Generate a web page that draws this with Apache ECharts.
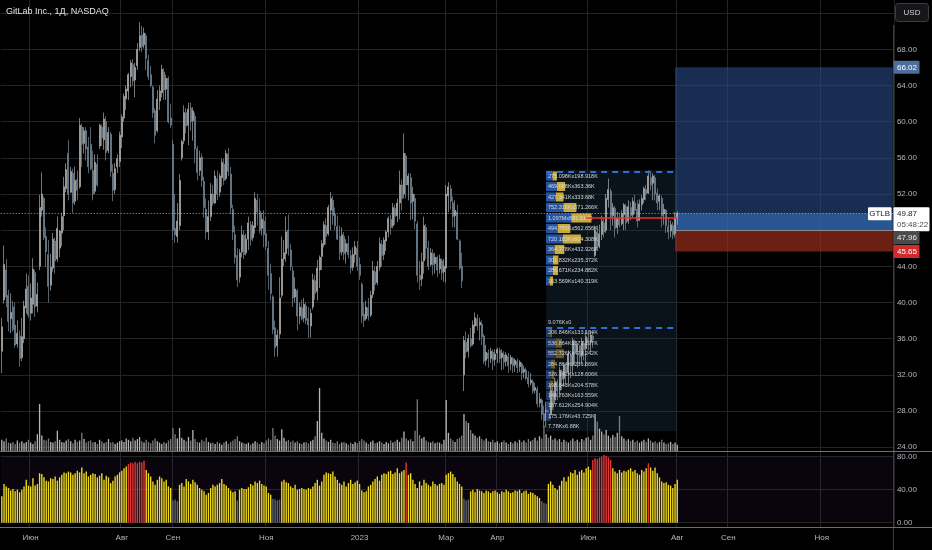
<!DOCTYPE html>
<html lang="ru">
<head>
    <meta charset="UTF-8">
    <title>GitLab Inc., 1Д, NASDAQ</title>
    <script src="https://cdn.jsdelivr.net/npm/echarts@6/dist/echarts.min.js"></script>
    <style>
        html, body { margin: 0; padding: 0; background: #000; }
        #main { width: 932px; height: 550px; }
    </style>
</head>
<body>
<div id="main"></div>
<script type="text/javascript">
    // daily candles, 12 May 2022 .. 1 Aug 2023
    var opens = [
        34.6,40.3,43.6,40.8,38.2,39.5,37.5,35.4,36.3,33.9,
        36.0,39.4,41.8,38.8,39.8,43.3,39.6,44.0,50.2,51.5,
        47.3,45.3,41.9,43.8,46.8,44.8,46.0,47.7,49.6,52.6,
        56.5,52.2,54.3,51.2,53.6,52.8,59.4,57.6,59.0,57.2,
        57.5,54.6,52.3,55.3,57.3,59.4,58.0,60.0,56.8,58.6,
        54.3,52.5,55.0,55.6,58.3,60.4,62.5,63.4,65.0,66.3,
        64.6,66.2,68.2,69.6,68.5,69.5,66.8,65.2,63.8,61.2,
        59.0,62.3,63.2,65.5,63.6,64.8,60.4,57.5,48.2,47.3,
        48.5,56.0,57.9,61.0,59.6,61.5,60.1,60.6,57.0,54.6,
        56.1,53.4,50.3,47.8,49.5,52.0,51.0,53.7,52.2,53.8,
        55.3,53.7,56.4,54.2,50.3,47.5,45.2,42.8,45.6,47.4,
        45.5,47.0,48.6,47.2,48.3,51.3,50.1,48.2,49.0,47.6,
        46.0,43.2,40.6,37.2,35.2,36.5,40.8,44.8,45.4,48.0,
        45.8,43.5,40.6,41.3,38.5,39.4,38.3,39.6,38.2,37.4,
        39.5,42.4,41.2,43.6,45.1,46.4,48.5,47.6,50.2,51.3,
        49.8,48.4,47.3,45.6,47.3,45.6,46.5,45.2,43.9,45.3,
        46.0,44.2,42.0,38.7,38.2,39.4,38.6,40.9,43.4,42.2,
        43.9,46.4,45.3,46.8,47.8,49.2,48.5,50.4,49.6,51.0,
        53.0,52.0,56.2,53.0,53.8,51.2,51.5,48.7,43.0,42.6,
        44.6,48.3,46.0,44.2,45.4,44.3,45.0,43.7,44.6,43.4,
        43.8,51.8,52.6,51.0,49.6,50.0,46.8,44.0,32.0,35.6,
        34.6,36.0,35.4,37.4,38.2,37.5,37.6,36.3,33.6,34.4,
        33.8,34.5,33.7,34.4,34.7,33.9,34.2,33.5,34.0,33.2,
        33.8,33.1,33.5,32.9,33.2,32.3,32.5,31.7,31.1,31.2,
        30.3,30.4,28.9,29.2,27.7,27.0,28.1,27.6,30.2,29.2,
        31.2,30.3,32.4,31.6,32.9,32.3,34.2,33.2,35.7,34.6,
        35.2,34.1,35.5,34.9,36.0,35.6,36.3,45.2,47.8,46.2,
        47.5,48.8,48.0,51.4,52.3,49.6,50.4,48.3,49.2,48.7,
        49.7,50.6,49.0,50.5,49.7,51.0,50.3,49.1,50.8,51.4,
        52.5,52.1,53.8,53.2,53.8,52.1,51.2,51.5,49.8,50.2,
        48.4,47.9,48.5,47.6,49.3
    ];
    var closes = [
        37.3,44.2,40.6,37.9,38.9,37.0,35.3,36.6,33.8,36.2,
        39.6,41.5,38.6,40.5,43.7,39.5,40.9,50.5,52.0,47.2,
        45.6,41.8,43.9,47.0,44.6,48.2,47.9,49.5,52.8,54.7,
        52.0,54.5,51.0,53.5,52.4,59.6,57.5,59.0,57.0,55.0,
        54.8,52.0,55.5,53.0,59.6,58.2,60.3,56.6,58.8,54.5,
        52.4,54.8,55.9,58.5,60.5,62.8,63.6,65.2,66.5,64.5,
        66.0,68.0,69.5,68.3,69.8,67.0,65.0,64.0,61.0,58.5,
        62.5,63.4,65.8,63.5,64.8,60.0,59.6,48.0,47.5,49.0,
        53.5,57.8,61.0,59.5,61.4,60.0,61.2,57.0,54.4,56.0,
        53.5,50.5,47.8,49.5,52.0,51.0,54.0,52.0,54.0,55.5,
        53.5,56.5,54.5,50.5,47.8,45.0,42.5,45.5,47.5,45.3,
        47.0,48.8,47.0,48.5,51.5,50.0,48.0,49.2,47.5,46.2,
        43.0,41.0,37.0,35.0,36.4,40.5,44.8,45.5,47.8,46.0,
        44.0,40.5,41.5,38.5,39.5,38.2,39.8,38.0,37.5,38.8,
        42.5,41.0,43.8,45.0,46.5,48.6,47.3,50.5,51.5,49.6,
        48.5,47.0,45.5,47.5,45.4,46.5,45.3,43.8,45.3,46.2,
        44.0,43.0,38.5,38.0,39.5,38.5,40.8,43.5,42.0,44.0,
        46.5,45.2,46.9,47.8,49.3,48.3,50.5,49.5,51.0,53.0,
        51.5,56.5,53.0,54.0,51.0,52.0,49.0,43.0,42.5,44.5,
        48.5,46.0,44.0,45.5,44.2,45.0,43.6,44.8,43.3,44.0,
        52.0,52.8,51.2,49.5,50.2,47.0,43.8,42.4,35.8,34.5,
        36.0,35.2,37.5,38.3,37.4,37.8,36.2,33.5,34.5,33.8,
        34.6,33.6,34.3,34.8,33.8,34.4,33.4,34.2,33.0,33.9,
        33.0,33.6,32.8,33.4,32.2,32.6,31.6,31.0,31.4,30.2,
        30.6,28.8,29.3,27.6,26.9,28.2,27.4,30.3,29.0,31.3,
        30.2,32.5,31.5,33.0,32.2,34.3,33.0,35.8,34.5,35.3,
        34.0,35.6,34.8,36.2,35.5,36.4,35.9,48.0,46.0,47.6,
        49.0,47.8,51.5,52.5,49.5,50.5,48.2,49.3,48.6,49.8,
        50.8,48.8,50.6,49.6,51.2,50.2,49.0,50.9,51.5,52.6,
        52.0,54.0,53.0,54.0,52.0,51.0,51.8,49.6,50.3,48.5,
        47.8,48.6,47.5,49.3,49.87
    ];
    var lows = [
        32.2,39.9,39.5,36.8,36.6,36.8,35.0,35.0,32.9,33.5,
        35.5,38.8,38.3,38.0,38.8,38.4,38.9,43.6,49.5,46.9,
        43.9,40.0,41.3,43.4,43.2,44.5,45.0,46.2,48.0,52.2,
        51.3,52.1,49.9,50.8,51.3,52.6,55.0,56.5,55.7,54.3,
        54.6,51.3,52.0,52.8,57.0,57.3,56.9,55.7,56.5,53.9,
        51.2,52.0,54.3,55.0,57.1,60.0,61.3,62.4,63.8,64.0,
        62.7,65.7,67.8,67.7,68.1,65.7,64.6,63.8,60.4,57.6,
        58.8,61.3,62.7,62.4,62.4,59.8,59.3,46.9,46.6,46.6,
        48.0,55.7,57.5,58.7,57.4,59.0,57.9,55.4,53.5,54.0,
        52.8,49.4,47.0,46.9,49.0,50.7,50.9,51.3,51.7,52.8,
        53.0,53.5,54.0,49.8,46.9,44.3,41.7,42.2,45.0,44.8,
        45.2,45.8,46.3,46.8,47.6,48.5,47.6,47.4,46.1,45.8,
        41.4,40.2,36.5,34.0,34.0,36.0,40.5,44.0,44.5,45.2,
        43.5,39.5,40.0,36.9,37.6,38.0,37.8,37.6,36.1,36.1,
        39.2,40.3,40.2,41.6,43.6,46.1,46.4,47.4,48.0,48.6,
        48.0,46.9,44.7,45.2,44.7,44.3,44.9,43.2,43.5,44.4,
        43.5,42.5,37.7,37.3,38.0,38.0,38.4,40.5,41.3,41.9,
        43.5,44.0,44.7,45.7,47.2,47.5,48.2,48.6,48.9,49.2,
        50.2,51.5,51.5,51.3,49.1,49.2,48.1,42.2,41.4,41.8,
        43.2,44.8,43.6,44.0,43.0,43.2,42.8,43.2,42.5,42.3,
        42.2,50.0,50.3,48.3,48.3,46.9,43.6,41.6,30.2,33.8,
        33.9,35.0,35.2,36.6,36.9,35.8,35.3,33.2,33.0,32.8,
        33.3,32.5,33.0,33.3,33.3,32.5,32.6,32.9,32.2,32.5,
        32.2,32.3,32.2,32.3,31.4,31.6,31.4,30.6,30.8,29.9,
        29.9,28.4,28.4,27.0,26.2,26.2,27.0,27.1,28.3,28.8,
        29.2,29.5,30.3,30.7,30.8,31.1,31.6,32.1,33.0,32.8,
        33.2,33.3,33.6,32.9,34.7,34.5,35.0,45.0,45.8,46.0,
        46.9,47.2,47.7,50.5,48.0,48.5,47.2,47.6,48.3,48.5,
        48.0,48.0,48.7,49.1,49.4,49.9,48.3,49.0,50.2,51.0,
        51.3,52.0,52.4,51.3,51.3,50.2,50.2,48.3,48.6,47.7,
        47.0,47.2,47.0,47.2,48.6
    ];
    var highs = [
        38.3,46.3,44.8,41.4,41.0,40.2,40.0,38.0,36.9,38.3,
        40.2,43.2,43.0,42.1,44.9,43.6,42.2,51.9,54.4,51.7,
        48.3,46.9,45.4,47.7,47.2,49.5,48.0,49.9,53.9,55.4,
        58.0,55.0,54.8,55.0,54.6,60.4,59.8,59.4,59.4,58.3,
        59.4,56.8,56.4,56.4,59.8,59.7,61.0,60.6,59.4,58.9,
        55.3,55.4,56.4,58.9,60.8,63.1,64.0,65.4,66.8,66.9,
        66.5,68.7,71.0,70.6,70.4,69.8,67.4,66.2,64.0,61.5,
        63.5,64.0,66.3,65.9,65.2,65.0,62.0,58.0,52.0,51.0,
        54.2,58.0,61.8,61.5,62.1,62.1,61.6,61.0,57.3,56.8,
        56.5,53.9,51.5,51.3,53.2,53.0,54.6,54.6,54.3,55.9,
        55.9,56.9,57.1,55.0,50.8,48.5,46.0,45.9,48.5,48.0,
        47.6,49.5,49.0,49.0,52.2,52.0,51.5,49.9,50.2,49.5,
        46.8,44.3,40.8,38.0,37.0,42.8,47.3,46.9,49.5,49.7,
        46.5,44.0,42.8,41.5,40.0,40.3,40.5,40.0,39.5,39.3,
        43.2,43.0,44.7,45.2,46.9,49.0,49.3,50.8,52.2,51.8,
        50.5,49.6,48.5,48.3,47.8,47.0,47.4,45.8,46.1,46.8,
        46.8,45.0,42.2,40.0,40.2,40.5,41.3,44.6,44.0,44.6,
        47.2,46.9,47.2,48.0,49.5,49.7,51.0,50.8,51.5,54.6,
        53.6,58.7,56.5,54.3,54.3,52.8,52.0,49.0,44.6,45.5,
        49.5,48.7,46.8,46.0,45.9,45.5,45.2,45.3,44.9,44.8,
        53.0,53.3,53.0,51.7,51.3,50.8,47.0,45.5,36.3,36.8,
        36.5,37.2,38.0,38.9,38.7,38.3,38.0,36.5,35.3,34.8,
        35.0,34.8,34.8,35.0,35.0,34.8,34.6,34.5,34.4,34.2,
        34.0,33.8,33.8,33.6,33.4,33.0,32.8,32.4,32.2,31.5,
        31.1,30.7,30.0,29.4,28.6,29.0,28.6,31.0,30.5,31.7,
        31.5,32.9,32.6,33.3,33.2,34.7,34.4,36.1,35.9,35.5,
        35.3,36.1,35.8,36.9,36.6,36.9,36.8,48.5,48.5,48.6,
        49.6,49.4,52.0,53.7,52.6,51.0,50.7,50.0,49.9,50.2,
        51.0,50.9,51.3,51.1,51.6,51.9,51.3,51.4,51.9,52.8,
        53.0,54.6,54.4,54.3,54.1,52.6,52.0,51.8,50.9,50.3,
        49.4,49.1,48.9,50.0,50.1
    ];
    // volume, millions of shares
    var volumes = [
        1.6,1.4,1.8,1.2,1.1,1.3,1.0,1.5,1.2,1.4,
        1.1,1.3,1.6,1.2,1.0,1.4,2.4,6.7,2.2,1.6,
        1.5,1.8,1.3,1.2,1.4,2.9,1.6,1.3,1.2,1.5,
        1.7,1.4,1.1,1.6,1.3,1.5,2.6,1.7,1.2,1.4,
        1.5,1.2,1.3,1.0,1.6,1.4,1.1,1.3,1.7,1.2,
        1.3,1.0,1.2,1.4,1.5,1.3,1.8,1.6,1.4,1.9,
        1.5,1.7,2.0,1.4,1.2,1.6,1.3,1.1,1.5,1.8,
        1.4,1.2,1.0,1.3,1.1,1.5,1.7,3.3,2.4,1.8,
        3.3,1.9,1.6,1.4,2.0,1.5,3.0,1.7,1.3,1.2,
        1.6,1.4,1.9,1.3,1.1,1.2,1.0,1.3,1.1,0.9,
        1.2,1.4,1.0,1.3,1.5,1.7,2.1,1.4,1.2,1.1,
        1.0,1.2,0.9,1.1,1.4,1.2,1.0,1.3,1.1,1.5,
        1.8,1.6,3.3,2.2,1.7,1.5,3.1,1.9,1.4,1.6,
        1.3,1.5,1.2,1.4,1.1,1.0,1.2,1.3,1.1,1.4,
        1.6,2.1,4.3,9.0,2.6,1.8,1.5,1.3,1.6,1.2,
        1.1,1.4,1.0,1.2,1.3,1.1,0.9,1.2,1.0,1.3,
        1.1,1.4,1.7,1.5,1.2,1.0,1.3,1.5,1.1,1.2,
        1.4,1.2,1.0,1.3,1.1,1.5,1.2,1.4,1.6,1.3,
        1.9,2.8,1.8,1.5,1.7,1.4,2.9,7.4,2.3,1.8,
        2.0,1.5,1.3,1.2,1.4,1.1,1.3,1.2,1.0,1.6,
        7.3,2.6,1.8,1.5,1.3,1.7,1.9,2.2,5.3,4.3,
        4.0,3.0,2.5,2.2,1.9,2.1,1.7,1.5,1.8,1.4,
        1.3,1.6,1.2,1.4,1.1,1.3,1.5,1.2,1.0,1.3,
        1.1,1.4,1.2,1.6,1.3,1.5,1.2,1.7,1.4,1.6,
        1.9,1.5,2.1,1.8,3.6,2.4,1.9,2.2,1.6,1.8,
        1.5,1.7,1.3,1.6,1.4,1.2,1.5,1.8,1.4,1.6,
        1.3,1.7,1.5,1.9,2.0,1.6,2.2,5.3,4.2,3.2,
        2.8,2.4,3.0,2.2,1.9,2.3,2.0,2.6,5.0,2.1,
        1.8,1.5,1.7,1.4,1.6,1.3,1.5,1.2,1.4,1.6,
        1.3,1.8,1.5,1.2,1.4,1.1,1.3,1.6,1.2,1.0,
        1.1,1.3,1.0,1.2,0.9
    ];
    // lower pane oscillator
    var oscValues = [
        32,47,44,42,39,41,38,40,37,40,
        44,52,45,44,54,45,47,60,59,55,
        51,50,54,53,56,51,55,58,61,60,
        62,61,58,60,63,61,67,60,62,56,
        58,60,59,55,57,60,52,57,55,48,
        51,56,58,61,63,66,68,71,73,72,
        74,72,74,73,75,64,60,56,50,46,
        52,56,54,50,52,44,42,27,28,26,
        46,48,44,53,50,47,52,49,46,42,
        40,38,34,36,42,46,44,46,48,53,
        47,45,42,39,37,38,27,40,42,41,
        41,43,47,45,50,48,51,47,45,44,
        36,34,29,28,27,28,50,52,49,48,
        44,42,46,40,41,42,41,40,42,41,
        44,48,52,45,50,58,61,60,59,62,
        56,52,48,46,50,44,48,52,47,49,
        51,47,39,37,38,44,46,50,53,56,
        51,58,60,59,62,63,59,61,66,60,
        62,64,73,58,60,52,47,42,50,45,
        52,48,46,44,50,47,45,47,48,46,
        58,60,62,59,55,50,47,44,29,27,
        28,38,40,37,41,39,38,36,39,38,
        36,38,39,37,35,38,37,40,38,36,
        37,39,38,40,36,38,39,35,37,36,
        34,32,30,26,24,23,47,50,46,42,
        40,45,51,55,50,56,61,60,64,58,
        62,64,61,66,68,64,76,78,77,79,
        80,82,81,79,76,66,62,60,64,61,
        63,62,64,66,62,64,60,58,64,62,
        66,72,67,63,67,60,55,50,48,49,
        46,45,42,47,52
    ];

    // time axis: bar slots incl. empty future space
    var slotCount = 402;
    var tickIndex  = [13, 54, 77, 119, 161, 200, 223, 264, 304, 327, 369];
    var tickLabels = ['Июн', 'Авг', 'Сен', 'Ноя', '2023', 'Мар', 'Апр', 'Июн', 'Авг', 'Сен', 'Ноя'];

    // fixed range volume profiles (K shares, buy x sell), top row first
    var vpUpperBuy  = [275.098, 469.088, 427.341, 752.316, 1097, 494.755, 720.183, 364.778, 301.832, 286.671, 163.569];
    var vpUpperSell = [198.918, 363.36, 333.68, 571.266, 881.614, 562.656, 804.308, 432.926, 235.372, 234.882, 140.319];
    var vpLowerBuy  = [9.076, 206.846, 536.864, 552.726, 284.864, 326.142, 198.643, 148.763, 187.612, 175.176, 7.78];
    var vpLowerSell = [0, 133.164, 372.197, 473.242, 236.669, 128.606, 204.578, 163.559, 254.904, 43.725, 6.88];
    var vpUpperRange = [54.45, 49.35];   // top line, POC
    var vpLowerTop = 37.17;

    // long position tool
    var posStart = 303, posTarget = 66.02, posEntry = 47.96, posStop = 45.65;
    var lastPrice = 49.87, countdown = '05:48:22';

    var FONT = "'Liberation Sans', Arial, sans-serif";
    var GRIDC = '#242424';

    var slots = [];
    for (var i = 0; i < slotCount; i++) slots.push(String(i));
    var candles = [];
    for (var i = 0; i < closes.length; i++) candles.push([opens[i], closes[i], lows[i], highs[i]]);

    function isTick(idx) { return tickIndex.indexOf(idx) >= 0; }
    function fmtK(v) {
        if (v === 0) return '0';
        if (v >= 1000) return parseFloat((v / 1000).toFixed(3)) + 'M';
        return parseFloat(v.toFixed(3)) + 'K';
    }
    function vpLabel(buy, sell) {
        return function (p) { return fmtK(buy[p.dataIndex]) + 'x' + fmtK(sell[p.dataIndex]); };
    }
    var rows = ['0','1','2','3','4','5','6','7','8','9','10'];
    var plotLeft = 0.7, plotWidth = 893.2;

    var myChart = echarts.init(document.getElementById('main'));

    var option = {
        backgroundColor: '#000000',
        animation: false,
        title: {
            text: 'GitLab Inc., 1Д, NASDAQ',
            left: 6, top: 7, padding: 0,
            textStyle: { color: '#e3e5ea', fontSize: 9, fontWeight: 'normal', fontFamily: FONT }
        },
        grid: [
            { left: plotLeft, width: plotWidth, top: 0, height: 527, outerBoundsMode: 'none' },      // frame / time axis
            { left: plotLeft, width: plotWidth, top: 13.2, height: 433.9, outerBoundsMode: 'none' }, // price
            { left: plotLeft, width: plotWidth, top: 381, height: 70, outerBoundsMode: 'none' },     // volume
            { left: plotLeft, width: plotWidth, top: 456.7, height: 66, outerBoundsMode: 'none' },   // oscillator
            { left: 546, width: 131, top: 170.75, height: 115.5, outerBoundsMode: 'none' },          // VP upper
            { left: 546, width: 131, top: 317.1, height: 114.9, outerBoundsMode: 'none' }            // VP lower
        ],
        xAxis: [
            {
                type: 'category', gridIndex: 0, data: slots,
                axisLine: { show: false }, axisTick: { show: false },
                axisLabel: {
                    interval: function (idx) { return isTick(idx); },
                    formatter: function (v, idx) { var j = tickIndex.indexOf(idx); return j >= 0 ? tickLabels[j] : ''; },
                    color: '#b2b5be', fontSize: 8, fontFamily: FONT, margin: 7
                },
                splitLine: { show: true, interval: function (idx) { return isTick(idx); }, lineStyle: { color: GRIDC, width: 1 } }
            },
            { type: 'category', gridIndex: 1, data: slots, show: false },
            { type: 'category', gridIndex: 2, data: slots, show: false },
            { type: 'category', gridIndex: 3, data: slots, show: false },
            { type: 'value', gridIndex: 4, min: 0, max: 5700, show: false },
            { type: 'value', gridIndex: 5, min: 0, max: 7490, show: false }
        ],
        yAxis: [
            { type: 'value', gridIndex: 0, min: 0, max: 1, show: false },
            {
                type: 'value', gridIndex: 1, position: 'right', min: 24, max: 72, interval: 4,
                axisLine: { show: false }, axisTick: { show: false },
                axisLabel: {
                    color: '#b2b5be', fontSize: 8, fontFamily: FONT, margin: 3,
                    formatter: function (v) { return v >= 72 ? '' : v.toFixed(2); }
                },
                splitLine: { lineStyle: { color: GRIDC, width: 1 } }
            },
            { type: 'value', gridIndex: 2, min: 0, max: 10, show: false },
            {
                type: 'value', gridIndex: 3, position: 'right', min: 0, max: 80, interval: 40,
                axisLine: { show: false }, axisTick: { show: false },
                axisLabel: { color: '#b2b5be', fontSize: 8, fontFamily: FONT, margin: 3, formatter: function (v) { return v.toFixed(2); } },
                splitLine: { lineStyle: { color: GRIDC, width: 1 } }
            },
            { type: 'category', gridIndex: 4, data: rows, inverse: true, show: false },
            { type: 'category', gridIndex: 5, data: rows, inverse: true, show: false }
        ],
        series: [
            {   // backgrounds: VP region and position tool
                type: 'line', xAxisIndex: 1, yAxisIndex: 1, data: [], z: 1, silent: true,
                markArea: {
                    silent: true,
                    data: [
                        [{ coord: [245, vpUpperRange[0] + 0.2], itemStyle: { color: 'rgba(30,55,75,0.34)' } }, { coord: [304, 25.75] }],
                        [{ coord: [posStart, posTarget], itemStyle: { color: 'rgba(40,75,135,0.6)' } }, { coord: [slotCount - 1, lastPrice] }],
                        [{ coord: [posStart, lastPrice], itemStyle: { color: 'rgba(48,100,170,0.85)' } }, { coord: [slotCount - 1, posEntry] }],
                        [{ coord: [posStart, posEntry], itemStyle: { color: 'rgba(150,45,28,0.72)' } }, { coord: [slotCount - 1, posStop] }]
                    ]
                }
            },
            {
                name: 'GTLB', type: 'candlestick', xAxisIndex: 1, yAxisIndex: 1, data: candles, z: 3,
                barWidth: 1.5,
                itemStyle: {
                    color: '#dcd8c0', color0: '#3172aa',
                    borderColor: '#a9a9a9', borderColor0: '#7e8c98', borderWidth: 0.7
                }
            },
            {   // level lines
                type: 'line', xAxisIndex: 1, yAxisIndex: 1, data: [], z: 6, silent: true,
                markLine: {
                    silent: true, symbol: 'none', label: { show: false },
                    data: [
                        [{ coord: [245, vpUpperRange[0]], lineStyle: { color: '#2f6fd6', width: 2, type: [6, 5] } }, { coord: [304, vpUpperRange[0]] }],
                        [{ coord: [245, vpLowerTop], lineStyle: { color: '#2f6fd6', width: 2, type: [6, 5] } }, { coord: [304, vpLowerTop] }],
                        [{ coord: [263, vpUpperRange[1]], lineStyle: { color: '#ff2b2b', width: 1.5, type: 'solid' } }, { coord: [304, vpUpperRange[1]] }],
                        [{ coord: [posStart, posEntry], lineStyle: { color: '#8a8a8a', width: 1, type: 'solid' } }, { coord: [slotCount - 1, posEntry] }],
                        { yAxis: lastPrice, lineStyle: { color: 'rgba(220,220,220,0.75)', width: 1, type: [1, 2] } }
                    ]
                }
            },
            {
                name: 'Volume', type: 'bar', xAxisIndex: 2, yAxisIndex: 2, data: volumes, barWidth: '60%', z: 2,
                itemStyle: {
                    color: function (p) { return closes[p.dataIndex] >= opens[p.dataIndex] ? '#b4b4b4' : '#7a7a7a'; }
                }
            },
            {
                name: 'Osc', type: 'bar', xAxisIndex: 3, yAxisIndex: 3, data: oscValues, barWidth: '62%', clip: false,
                itemStyle: {
                    color: function (p) {
                        if (p.value >= 70) return '#e53935';
                        if (p.value < 30) return '#5f6670';
                        return '#f0dc1e';
                    }
                },
                markArea: {
                    silent: true,
                    data: [[{ yAxis: 0, itemStyle: { color: 'rgba(126,70,160,0.08)' } }, { yAxis: 80 }]]
                }
            },
            {
                type: 'bar', xAxisIndex: 4, yAxisIndex: 4, stack: 'vpu', data: vpUpperBuy, barCategoryGap: '14%', z: 4,
                itemStyle: { color: '#2654a0' },
                label: { show: true, position: 'insideLeft', distance: 2, formatter: vpLabel(vpUpperBuy, vpUpperSell),
                         color: '#d8d8d8', fontSize: 5.5, fontFamily: FONT }
            },
            {
                type: 'bar', xAxisIndex: 4, yAxisIndex: 4, stack: 'vpu', data: vpUpperSell, barCategoryGap: '14%', z: 3,
                itemStyle: { color: '#c8aa3c' }
            },
            {
                type: 'bar', xAxisIndex: 5, yAxisIndex: 5, stack: 'vpl', data: vpLowerBuy, barCategoryGap: '14%', z: 4,
                itemStyle: { color: '#1f3d72' },
                label: { show: true, position: 'insideLeft', distance: 2, formatter: vpLabel(vpLowerBuy, vpLowerSell),
                         color: '#d0d0d0', fontSize: 5.5, fontFamily: FONT }
            },
            {
                type: 'bar', xAxisIndex: 5, yAxisIndex: 5, stack: 'vpl', data: vpLowerSell, barCategoryGap: '14%', z: 3,
                itemStyle: { color: '#6a5824' }
            }
        ]
    };
    myChart.setOption(option);

    // price scale tags, placed with the chart's own price axis
    function py(p) { return myChart.convertToPixel({ yAxisIndex: 1 }, p); }
    function txt(x, y, s, fill, align) {
        return { type: 'text', z: 100, silent: true,
                 style: { x: x, y: y, text: s, fill: fill, font: '8px ' + FONT,
                          align: align || 'left', textAlign: align || 'left',
                          verticalAlign: 'middle', textVerticalAlign: 'middle' } };
    }
    function box(x, y, w, h, fill, stroke) {
        return { type: 'rect', z: 99, silent: true, shape: { x: x, y: y, width: w, height: h, r: 1 },
                 style: { fill: fill, stroke: stroke || null } };
    }
    var yNow = py(lastPrice), yT = py(posTarget), yS = py(posStop);
    var nowTop = yNow - 6, nowBottom = nowTop + 24;
    var entryTop = Math.max(py(posEntry) - 6.5, nowBottom);
    var axisX = 893.5, tagX = 897;
    myChart.setOption({
        graphic: [
            { type: 'line', z: 98, silent: true, shape: { x1: axisX, y1: 25, x2: axisX, y2: 550 }, style: { stroke: '#3a3a3a', lineWidth: 1 } },
            { type: 'line', z: 98, silent: true, shape: { x1: 0, y1: 451.5, x2: 932, y2: 451.5 }, style: { stroke: '#6e6e6e', lineWidth: 1 } },
            { type: 'line', z: 98, silent: true, shape: { x1: 0, y1: 527.5, x2: 932, y2: 527.5 }, style: { stroke: '#6e6e6e', lineWidth: 1 } },
            { type: 'rect', z: 99, silent: true, shape: { x: 895.5, y: 3.5, width: 33, height: 18, r: 3 }, style: { fill: '#151617', stroke: '#3c3e42' } },
            txt(912, 12.5, 'USD', '#d1d4dc', 'center'),
            box(axisX, yT - 6.5, 26, 13, '#4e6e9e'),
            txt(tagX, yT + 0.5, posTarget.toFixed(2), '#ffffff'),
            box(868, nowTop, 23.5, 13, '#ffffff'),
            txt(879.7, nowTop + 6.8, 'GTLB', '#131722', 'center'),
            box(axisX, nowTop, 36, 24, '#ffffff'),
            txt(tagX, nowTop + 6.8, lastPrice.toFixed(2), '#131722'),
            txt(tagX, nowTop + 17.5, countdown, '#4a4a4a'),
            box(axisX, entryTop, 26, 13, '#4b4b4b'),
            txt(tagX, entryTop + 7, posEntry.toFixed(2), '#e8e8e8'),
            box(axisX, yS - 6.5, 26, 13, '#cf2b2b'),
            txt(tagX, yS + 0.5, posStop.toFixed(2), '#ffffff')
        ]
    });
</script>
</body>
</html>
